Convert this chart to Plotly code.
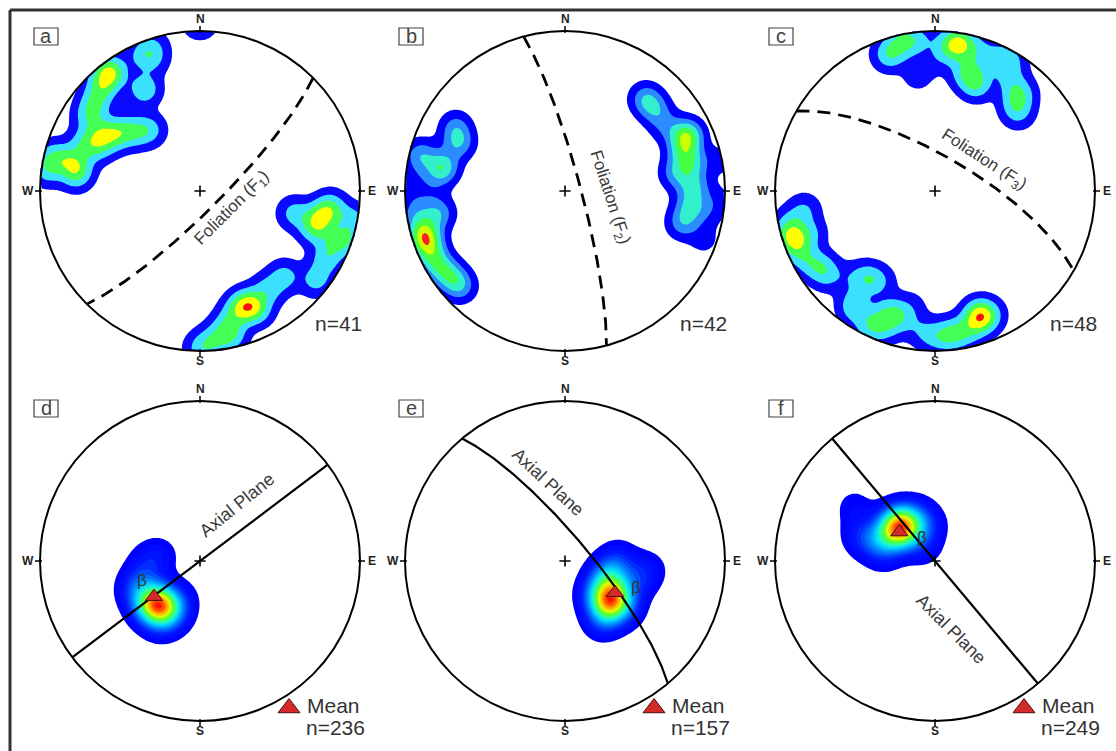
import numpy as np
import plotly.graph_objects as go

# ---------------- DATA (pole positions read from the nets; x = east, y = north, unit = primitive radius)
a_px = [0.0, -0.296, -0.369, -0.296, -0.556, -0.598, -0.619, -0.660, -0.692, -0.348, -0.619, -0.556,
        -0.494, -0.640, -0.410, -0.317, -0.723, -0.921, -0.827, -0.765, -0.775, -0.952,
        0.590, 0.735, 0.788, 0.715, 0.821, 0.954, 0.923, 0.840, 0.788, 0.725, 0.527, 0.423, 0.298, 0.235,
        0.360, 0.173, 0.194, 0.090, 0.006]
a_py = [1.06, 0.902, 0.850, 0.819, 0.746, 0.704, 0.631, 0.548, 0.465, 0.635, 0.360, 0.340,
        0.371, 0.277, 0.371, 0.381, 0.298, 0.215, 0.194, 0.152, 0.100, 0.131,
        -0.140, -0.181, -0.140, -0.244, -0.098, -0.181, -0.306, -0.327, -0.431, -0.556, -0.535, -0.619, -0.713, -0.744,
        -0.744, -0.838, -0.910, -0.931, -0.983]
a_w = [1.0, 0.65, 0.65, 0.65, 1.8, 1.0, 1.0, 1.0, 1.0, 1.3, 1.0, 1.0,
       1.0, 1.0, 1.0, 1.0, 1.0, 1.0, 1.0, 1.0, 1.0, 1.0,
       1.0, 1.3, 1.0, 1.0, 1.0, 1.0, 1.0, 1.0, 1.0, 1.0, 1.0, 1.0, 2.0, 1.0,
       1.0, 1.0, 1.0, 1.0, 1.0]

b_px = [-0.902, -0.767, -0.663, -0.683, -0.933, -0.829, -0.954, -0.788, -0.892, -0.871, -0.840, -0.788, -0.715,
        -0.652, -0.933,
        0.504, 0.567, 0.629, 0.765, 0.733, 0.796, 0.806, 0.785, 0.733, 0.900, 0.963, 0.869, 0.973, 0.692]
b_py = [0.225, 0.142, 0.298, 0.402, 0.090, 0.006, -0.035, -0.140, -0.244, -0.306, -0.390, -0.473, -0.535,
        -0.598, -0.140,
        0.577, 0.506, 0.402, 0.350, 0.256, 0.173, 0.027, -0.098, -0.202, -0.140, -0.056, -0.306, 0.194, 0.110]
b_w = [1.0, 1.5, 1.0, 0.8, 0.3, 0.3, 0.3, 1.0, 1.0, 1.5, 1.0, 1.0, 1.0, 0.9, 0.6,
       1.0, 0.8, 0.6, 1.7, 1.0, 1.0, 1.0, 1.0, 0.9, 0.35, 0.35, 0.4, 0.4, 0.9]

c_px = [-0.192, -0.275, -0.108, 0.006, -0.108, 0.152, 0.100, 0.267, 0.392, 0.475, 0.183, 0.246, 0.496, 0.506,
        0.527, -0.296, -0.213, 0.225, 0.267, 0.454, 0.506, 0.538, 0.058,
        -0.817, -0.900, -0.879, -0.848, -0.775, -0.671, -0.525, -0.400, -0.504, -0.358, -0.254, -0.150, -0.088,
        0.058, 0.163, 0.277, 0.298, -0.421,
        -0.775, -0.921, -0.708, -0.442, -0.338, -0.504, -0.275, -0.317, -0.192, -0.025, 0.100, 0.225, 0.350]
c_py = [0.923, 0.860, 0.944, 0.827, 0.725, 0.923, 0.881, 0.881, 0.840, 0.819, 0.735, 0.683, 0.673, 0.579,
        0.485, 0.850, 0.954, 0.767, 0.663, 0.725, 0.506, 0.610, 0.944,
        -0.119, -0.202, -0.306, -0.390, -0.452, -0.525, -0.546, -0.556, -0.744, -0.806, -0.785, -0.723, -0.869,
        -0.910, -0.890, -0.775, -0.806, -0.858,
        -0.265, -0.265, -0.473, -0.535, -0.567, -0.692, -0.744, -0.858, -0.806, -0.910, -0.890, -0.858, -0.769]
c_w = [1.0, 1.0, 1.0, 0.5, 0.6, 2.7, 1.0, 1.0, 1.0, 1.0, 1.0, 1.0, 0.5, 1.0,
       0.6, 0.8, 0.8, 0.8, 1.0, 0.7, 0.7, 0.9, 0.5,
       1.0, 1.0, 2.4, 1.0, 1.0, 1.0, 0.5, 1.0, 1.0, 1.0, 1.0, 0.5, 0.6,
       1.0, 1.0, 2.7, 1.0, 1.0,
       0.9, 0.8, 0.9, 0.7, 0.6, 0.9, 0.8, 0.9, 0.6, 0.7, 0.9, 0.9, 0.7]

d_px = [-0.271, -0.229, -0.333, -0.167, -0.375, -0.333, -0.250, -0.417, -0.250, -0.125]
d_py = [-0.254, -0.296, -0.296, -0.338, -0.129, -0.004, 0.038, -0.192, -0.400, -0.233]
d_w = [5, 3, 2, 1.5, 1.5, 1, 1, 1, 1, 1]

e_px = [0.275, 0.306, 0.285, 0.233, 0.379, 0.233, 0.520, 0.463, 0.171, 0.338]
e_py = [-0.267, -0.194, -0.069, -0.131, -0.298, -0.381, -0.050, -0.131, -0.215, 0.025]
e_w = [5, 3, 2, 1.5, 1.5, 1.5, 1, 1, 1, 1]

f_px = [-0.223, -0.233, -0.296, -0.150, -0.108, -0.067, -0.400, -0.483, -0.504, -0.317, -0.030]
f_py = [0.244, 0.181, 0.160, 0.181, 0.285, 0.077, 0.119, 0.160, 0.338, 0.035, 0.220]
f_w = [5, 3, 2, 2, 1.5, 1, 1.5, 1, 1, 1, 1]

mean_x = [-0.2875, 0.3125, -0.223]      # panels d, e, f
mean_y = [-0.223, -0.198, 0.181]

foliation_strike = [45, 345, 300]        # panels a, b, c (right-hand rule)
foliation_dip = [80, 82, 72]
axial_strike = [53, 320, 320]            # panels d, e, f
axial_dip = [90, 78, 90]

panel_letters = ["a", "b", "c", "d", "e", "f"]
n_labels = ["n=41", "n=42", "n=48", "n=236", "n=157", "n=249"]
foliation_labels = ["Foliation (F<sub>1</sub>)", "Foliation (F<sub>2</sub>)", "Foliation (F<sub>3</sub>)"]

# ---------------- LAYOUT CONSTANTS (pixels)
W, H = 1116, 751
R = 160
CX = [200, 565, 935, 200, 565, 935]
CY = [191, 191, 191, 561, 561, 561]

top_colors = [["#ffffff", "#0a0aff", "#3ce0ff", "#44ff55", "#ffff00", "#ff1010"],
              ["#ffffff", "#0000ff", "#2b8cff", "#33f0cc", "#44ff44", "#ccff00", "#ff2020"],
              ["#ffffff", "#0a0aff", "#3ce0ff", "#44ff55", "#ffff00", "#ff1010"]]
top_levels = [(0.12, 0.96, 0.21), (0.1, 0.95, 0.17), (0.12, 0.96, 0.21)]
top_gamma = [0.75, 1.0, 0.75]
top_sigma = [0.065, 0.07, 0.065]
FONT = "Liberation Sans, Arial, sans-serif"


def to_px(i, x, y):
    return CX[i] + R * np.asarray(x), CY[i] - R * np.asarray(y)


def density(px_, py_, pw_, sigma, n=201):
    g = np.linspace(-1.0, 1.0, n)
    GX, GY = np.meshgrid(g, g)
    Z = np.zeros_like(GX)
    for x, y, w in zip(px_, py_, pw_):
        Z += w * np.exp(-((GX - x) ** 2 + (GY - y) ** 2) / (2 * sigma ** 2))
    Z[GX ** 2 + GY ** 2 > 1.0] = 0.0
    return g, Z / Z.max()


def great_circle(strike, dip, n=181):
    s = np.radians(strike)
    dd = np.radians(strike + 90)
    d = np.radians(dip)
    t = np.radians(np.linspace(0, 180, n))
    Lx = np.cos(t) * np.sin(s) + np.sin(t) * np.sin(dd) * np.cos(d)
    Ly = np.cos(t) * np.cos(s) + np.sin(t) * np.cos(dd) * np.cos(d)
    Lz = -np.sin(t) * np.sin(d)
    plunge = np.arcsin(np.clip(-Lz, -1, 1))
    trend = np.arctan2(Lx, Ly)
    r = np.sqrt(2) * np.sin((np.pi / 2 - plunge) / 2)
    return r * np.sin(trend), r * np.cos(trend)


fig = go.Figure()

data_sets = [(a_px, a_py, a_w), (b_px, b_py, b_w), (c_px, c_py, c_w),
             (d_px, d_py, d_w), (e_px, e_py, e_w), (f_px, f_py, f_w)]

# ---- density contours
for i, (px_, py_, pw_) in enumerate(data_sets):
    if i < 3:
        g, Z = density(px_, py_, pw_, top_sigma[i])
        Z = Z ** top_gamma[i]
        start, end, size = top_levels[i]
        cols = top_colors[i]
        nc = len(cols) - 1
        cs = [[k / nc, c] for k, c in enumerate(cols)]
    else:
        g, Z = density(px_, py_, pw_, 0.085)
        start, end, size = 0.06, 0.98, 0.046
        nc = int(np.floor((end - start) / size + 1e-9)) + 1
        jet = [(0.0, "#0000ff"), (0.12, "#0018ff"), (0.28, "#0080ff"), (0.42, "#00e0ff"),
               (0.54, "#30ffa0"), (0.64, "#50ff30"), (0.75, "#e0ff00"), (0.86, "#ffaa00"), (1.0, "#ff1000")]
        p0 = 1.0 / nc
        cs = [[0.0, "#ffffff"]] + [[p0 + f * (1 - p0), c] for f, c in jet]
    xs, _ = to_px(i, g, 0)
    _, ys = to_px(i, 0, g[::-1])
    fig.add_trace(go.Contour(
        x=xs, y=ys, z=Z[::-1, :],
        contours=dict(start=start, end=end, size=size, coloring="fill", showlines=False),
        line=dict(width=0), colorscale=cs, showscale=False, hoverinfo="skip"))

# ---- great circles
for i in range(3):
    gx, gy = great_circle(foliation_strike[i], foliation_dip[i])
    X, Y = to_px(i, gx, gy)
    fig.add_trace(go.Scatter(x=X, y=Y, mode="lines", line=dict(color="black", width=2.8, dash="13px,8px"),
                             hoverinfo="skip"))
for j in range(3):
    i = j + 3
    gx, gy = great_circle(axial_strike[j], axial_dip[j])
    X, Y = to_px(i, gx, gy)
    fig.add_trace(go.Scatter(x=X, y=Y, mode="lines", line=dict(color="black", width=2.2), hoverinfo="skip"))

# ---- primitive circles, ticks, centre crosses
shapes = []
annotations = []
for i in range(6):
    cx, cy = CX[i], CY[i]
    shapes.append(dict(type="circle", xref="x", yref="y", x0=cx - R, x1=cx + R, y0=cy - R, y1=cy + R,
                       line=dict(color="black", width=2), layer="above"))
    for dx, dy in [(0, -1), (0, 1), (-1, 0), (1, 0)]:
        shapes.append(dict(type="line", xref="x", yref="y", x0=cx + dx * (R - 2), y0=cy + dy * (R - 2),
                           x1=cx + dx * (R + 5), y1=cy + dy * (R + 5), line=dict(color="black", width=1.5),
                           layer="above"))
    for lab, dx, dy in [("N", 0, -172), ("S", 0, 170), ("W", -172, 0), ("E", 172, 0)]:
        annotations.append(dict(x=cx + dx, y=cy + dy, xref="x", yref="y", text="<b>%s</b>" % lab,
                                showarrow=False, font=dict(size=12, color="#222", family=FONT)))
    fig.add_trace(go.Scatter(x=[cx], y=[cy], mode="markers",
                             marker=dict(symbol="cross-thin", size=8, line=dict(color="black", width=1.6)),
                             hoverinfo="skip"))
    # panel letter box
    bx, by = cx - 166, (cy - 163 if i < 3 else cy - 161)
    shapes.append(dict(type="rect", xref="x", yref="y", x0=bx, x1=bx + 24, y0=by, y1=by + 17,
                       line=dict(color="#444", width=1.2), layer="above"))
    annotations.append(dict(x=bx + 12, y=by + 8, xref="x", yref="y", text=panel_letters[i], showarrow=False,
                            font=dict(size=20, color="#444", family=FONT)))

# n labels for top row
for i in range(3):
    annotations.append(dict(x=CX[i] + 138, y=CY[i] + 132, xref="x", yref="y", text=n_labels[i], showarrow=False,
                            xanchor="center", font=dict(size=21, color="#333", family=FONT)))

# foliation labels
fol_pos = [(232, 209, -45), (609, 197, 72), (983, 160, 33)]
for i, (x, y, ang) in enumerate(fol_pos):
    annotations.append(dict(x=x, y=y, xref="x", yref="y", text=foliation_labels[i], showarrow=False,
                            textangle=ang, font=dict(size=17, color="#3a3a3a", family=FONT)))

# axial plane labels
ax_pos = [(237, 505, -39), (548, 482, 43), (951, 629, 45)]
for x, y, ang in ax_pos:
    annotations.append(dict(x=x, y=y, xref="x", yref="y", text="Axial Plane", showarrow=False,
                            textangle=ang, font=dict(size=18, color="#3a3a3a", family=FONT)))

# mean triangles and beta labels
beta_off = [(-12, -16), (21, -5), (23, 5)]
for j in range(3):
    i = j + 3
    X, Y = to_px(i, [mean_x[j]], [mean_y[j]])
    fig.add_trace(go.Scatter(x=X, y=Y, mode="markers",
                             marker=dict(symbol="triangle-up", size=15, color="#d42a2a",
                                         line=dict(color="#4a1010", width=1)), hoverinfo="skip"))
    annotations.append(dict(x=X[0] + beta_off[j][0], y=Y[0] + beta_off[j][1], xref="x", yref="y", text="β",
                            showarrow=False, font=dict(size=17, color="#2b3b2b", family=FONT)))
    # legend key
    lx, ly = CX[i] + 89, CY[i] + 147
    fig.add_trace(go.Scatter(x=[lx], y=[ly], mode="markers",
                             marker=dict(symbol="triangle-up", size=19, color="#d42a2a",
                                         line=dict(color="#4a1010", width=1)), hoverinfo="skip"))
    annotations.append(dict(x=lx + 16, y=ly - 3, xref="x", yref="y", text="Mean", showarrow=False, xanchor="left",
                            font=dict(size=21, color="#333", family=FONT)))
    annotations.append(dict(x=lx + 15, y=ly + 19, xref="x", yref="y", text=n_labels[i], showarrow=False,
                            xanchor="left", font=dict(size=21, color="#333", family=FONT)))

# frame lines (top and left)
shapes.append(dict(type="line", xref="x", yref="y", x0=10, y0=10, x1=W, y1=10, line=dict(color="#333", width=3)))
shapes.append(dict(type="line", xref="x", yref="y", x0=10, y0=10, x1=10, y1=H, line=dict(color="#333", width=3)))

fig.update_layout(
    width=W, height=H, margin=dict(l=0, r=0, t=0, b=0),
    paper_bgcolor="white", plot_bgcolor="white", showlegend=False, hovermode=False,
    xaxis=dict(range=[0, W], visible=False, fixedrange=True),
    yaxis=dict(range=[H, 0], visible=False, fixedrange=True),
    shapes=shapes, annotations=annotations,
)

fig.write_html("out.html", config={"displayModeBar": False},
               post_script="document.body.style.margin='0';document.body.style.overflow='hidden';")
